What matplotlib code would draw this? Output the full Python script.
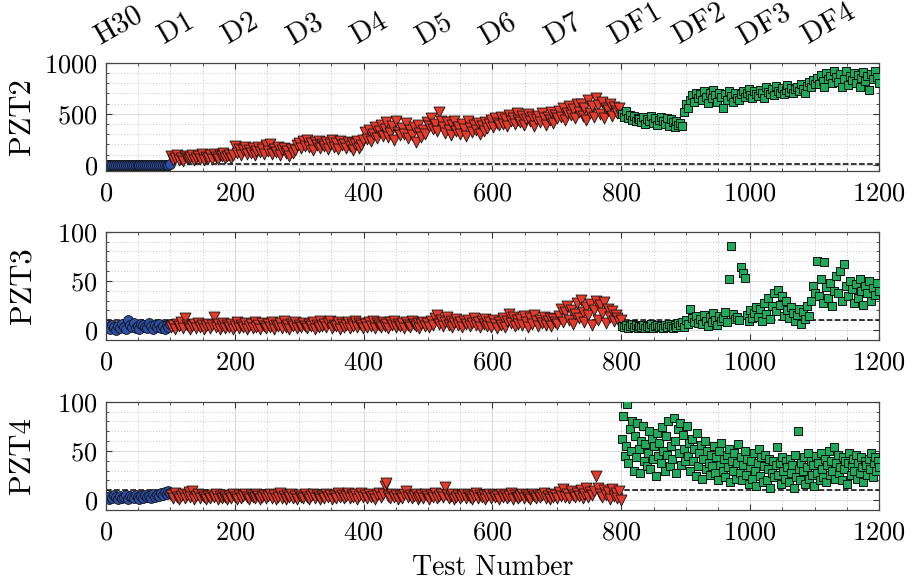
import numpy as np
import matplotlib
matplotlib.use('Agg')
import matplotlib.pyplot as plt
from matplotlib.ticker import MultipleLocator

plt.rcParams['font.family'] = ['cmr10', 'DejaVu Serif']
plt.rcParams['mathtext.fontset'] = 'cm'
plt.rcParams['axes.formatter.use_mathtext'] = True

# group names shown along the top and the test number where each group starts
group_labels = ['H30', 'D1', 'D2', 'D3', 'D4', 'D5', 'D6', 'D7', 'DF1', 'DF2', 'DF3', 'DF4']
group_starts = [0, 100, 200, 300, 400, 500, 600, 700, 800, 900, 1000, 1100]

# test ranges of the three condition sets (healthy, damage, damage + fault)
h30_range = (1, 100)
d_range = (101, 800)
df_range = (801, 1200)

# ---- PZT2 (roughly every third test) ----
pzt2_h30 = [1, 2, 0, 1, 3, 2, 1, 0, 2, 1, 3, 1, 2, 0, 1, 2, 3, 1, 0, 2, 1, 3, 2, 1, 0, 2, 1, 3, 2, 1, 2, 0, 3, 8]
pzt2_d = [85, 45, 70, 95, 52, 63, 40, 88, 72, 55,
          78, 98, 50, 66, 90, 58, 102, 47, 80, 70,
          92, 60, 108, 75, 55, 98, 82, 115, 66, 88,
          100, 72, 95, 185, 120, 160, 98, 145, 175, 110,
          150, 118, 170, 92, 135, 178, 125, 160, 105, 190,
          140, 200, 110, 155, 130, 172, 98, 148, 165, 120,
          135, 82, 160, 115, 145, 190, 210, 165, 230, 180,
          240, 175, 210, 150, 225, 195, 238, 168, 205, 185,
          228, 160, 200, 242, 178, 215, 155, 232, 190, 208,
          170, 225, 185, 210, 150, 200, 230, 165, 195, 240,
          320, 250, 345, 230, 300, 370, 265, 330, 395, 280,
          350, 420, 275, 310, 380, 240, 430, 325, 290, 360,
          300, 410, 260, 340, 295, 370, 228, 395, 315, 270,
          340, 300, 420, 380, 455, 350, 400, 330, 520, 425,
          370, 310, 415, 345, 290, 390, 430, 330, 375, 300,
          405, 350, 280, 425, 365, 320, 395, 340, 410, 300,
          385, 330, 420, 360, 400, 440, 375, 455, 410, 390,
          470, 405, 445, 380, 490, 425, 460, 400, 510, 440,
          415, 475, 390, 450, 500, 430, 465, 385, 445, 480,
          420, 505, 455, 395, 470, 440, 520, 410, 485, 460,
          530, 470, 555, 440, 510, 580, 490, 545, 460, 595,
          520, 600, 480, 555, 435, 640, 510, 575, 470, 655,
          590, 500, 620, 460, 560, 540, 600, 480, 570, 530,
          510, 560, 490]
pzt2_df = [500, 470, 530, 455, 490, 440, 475, 430, 460, 445,
           420, 470, 400, 450, 430, 480, 410, 455, 390, 440,
           470, 425, 400, 460, 380, 445, 415, 370, 430, 395,
           410, 385, 520, 600, 560, 640, 680, 620, 700, 655,
           690, 640, 720, 665, 610, 700, 650, 735, 680, 620,
           705, 660, 560, 690, 640, 725, 670, 615, 700, 655,
           640, 690, 720, 660, 700, 745, 680, 650, 720, 690,
           670, 730, 700, 650, 760, 715, 690, 745, 680, 770,
           720, 700, 755, 690, 735, 785, 710, 750, 700, 740,
           765, 720, 790, 745, 700, 775, 810, 760, 830, 790,
           850, 790, 880, 820, 760, 900, 840, 870, 800, 920,
           860, 810, 890, 760, 840, 920, 780, 870, 830, 900,
           800, 880, 760, 850, 910, 820, 870, 730, 890, 840,
           920, 860, 800]

# ---- PZT3 ----
pzt3_h30 = [2, 4, 1, 5, 3, 0, 4, 2, 6, 3, 1, 10, 5, 3, 7, 2, 4, 1, 6, 5, 3, 2, 7, 4, 1, 5, 3, 6, 2, 4, 1, 5, 3, 6]
pzt3_d = [3, 5, 1, 6, 4, 8, 2, 12, 5, 3,
          1, 4, 6, 2, 7, 3, 5, 1, 4, 6,
          2, 5, 13, 3, 6, 1, 4, 7, 2, 5,
          3, 6, 1, 4, 8, 2, 5, 3, 7, 1,
          4, 6, 2, 8, 3, 5, 1, 7, 4, 2,
          6, 3, 8, 1, 5, 4, 7, 2, 9, 3,
          5, 1, 6, 4, 8, 2, 5, 3, 7, 4,
          2, 6, 4, 8, 1, 5, 3, 9, 4, 6,
          3, 7, 9, 2, 5, 4, 8, 1, 6, 3,
          5, 8, 2, 6, 4, 9, 3, 7, 5, 2,
          6, 3, 8, 4, 9, 2, 7, 5, 3, 8,
          4, 6, 2, 8, 5, 9, 3, 6, 4, 7,
          2, 8, 5, 3, 9, 6, 4, 7, 2, 6,
          8, 4, 7, 3, 9, 5, 12, 15, 6, 10,
          4, 8, 13, 5, 9, 3, 7, 11, 5, 8,
          3, 9, 6, 10, 4, 7, 12, 5, 8, 3,
          9, 6, 11, 4, 8, 3, 10, 6, 2, 8,
          5, 12, 3, 9, 16, 7, 13, 4, 10, 6,
          11, 5, 14, 8, 3, 12, 6, 15, 9, 4,
          10, 7, 13, 5, 9, 12, 4, 11, 8, 6,
          14, 22, 8, 18, 25, 10, 20, 6, 16, 28,
          12, 31, 18, 8, 24, 15, 27, 5, 20, 30,
          10, 26, 17, 29, 7, 22, 13, 19, 9, 15,
          12, 8, 10]
pzt3_df = [4, 3, 5, 2, 4, 6, 3, 5, 2, 4,
           3, 5, 2, 4, 3, 6, 2, 4, 5, 3,
           4, 2, 5, 3, 6, 4, 2, 5, 3, 7,
           5, 8, 3, 10, 6, 22, 12, 8, 14, 7,
           11, 6, 15, 9, 4, 13, 8, 17, 10, 5,
           14, 9, 12, 18, 8, 52, 86, 16, 11, 13,
           10, 64, 58, 53, 15, 9, 20, 12, 17, 24,
           13, 22, 9, 28, 16, 33, 11, 25, 38, 19,
           41, 26, 35, 14, 30, 20, 12, 24, 17, 9,
           15, 21, 6, 18, 11, 25, 14, 30, 45, 38,
           70, 35, 52, 28, 69, 44, 33, 48, 25, 40,
           55, 38, 60, 30, 67, 45, 35, 50, 42, 28,
           47, 33, 52, 40, 26, 45, 38, 50, 30, 43,
           36, 48, 40]

# ---- PZT4 ----
pzt4_h30 = [3, 1, 4, 2, 5, 3, 1, 4, 2, 3, 5, 1, 4, 3, 2, 5, 3, 1, 4, 2, 5, 3, 4, 2, 6, 3, 5, 4, 7, 5, 8, 6, 9, 7]
pzt4_d = [5, 2, 7, 3, 1, 4, 6, 2, 5, 8,
          3, 9, 1, 4, 6, 2, 5, 3, 1, 4,
          2, 5, 3, 6, 1, 4, 2, 5, 3, 1,
          4, 2, 6, 3, 1, 5, 2, 4, 6, 3,
          1, 5, 3, 2, 6, 4, 1, 3, 5, 2,
          4, 6, 2, 5, 1, 3, 7, 2, 4, 1,
          5, 3, 6, 2, 4, 1, 5, 3, 2, 6,
          3, 1, 4, 6, 2, 5, 3, 1, 4, 2,
          6, 3, 5, 1, 4, 2, 7, 3, 5, 2,
          4, 7, 2, 5, 3, 6, 1, 4, 7, 3,
          5, 2, 6, 3, 4, 1, 5, 7, 3, 6,
          14, 17, 4, 2, 6, 3, 5, 1, 4, 2,
          6, 9, 3, 5, 2, 4, 6, 1, 3, 5,
          2, 6, 4, 1, 5, 3, 7, 2, 4, 6,
          3, 13, 5, 2, 4, 6, 1, 3, 5, 2,
          4, 6, 2, 5, 3, 1, 4, 7, 2, 5,
          3, 5, 1, 4, 6, 2, 5, 3, 4, 1,
          6, 3, 5, 2, 4, 7, 1, 5, 3, 2,
          4, 6, 2, 5, 3, 1, 6, 4, 2, 5,
          3, 5, 7, 2, 4, 1, 6, 3, 5, 2,
          8, 4, 11, 3, 6, 2, 9, 5, 3, 7,
          4, 10, 2, 6, 12, 3, 8, 5, 9, 25,
          12, 6, 3, 10, 5, 8, 1, 11, 4, 7,
          2, 9, 0]
# denser here: roughly every second test
pzt4_df = [62, 86, 45, 55, 98, 38, 72, 50, 80, 30,
           65, 44, 78, 52, 28, 60, 75, 40, 57, 35,
           48, 70, 32, 62, 42, 55, 25, 68, 45, 58,
           38, 74, 50, 30, 65, 46, 80, 35, 55, 42,
           84, 60, 28, 72, 48, 78, 36, 66, 52, 40,
           75, 45, 58, 30, 62, 40, 52, 25, 68, 35,
           48, 56, 22, 42, 60, 32, 50, 38, 26, 46,
           35, 55, 28, 44, 20, 50, 36, 58, 30, 42,
           24, 46, 34, 52, 18, 40, 30, 48, 22, 38,
           57, 28, 44, 20, 36, 50, 26, 42, 16, 34,
           40, 22, 48, 30, 14, 38, 52, 25, 44, 18,
           35, 46, 20, 32, 42, 12, 28, 40, 24, 36,
           54, 26, 38, 16, 44, 30, 22, 40, 34, 18,
           42, 28, 36, 12, 46, 24, 70, 32, 20, 38,
           30, 44, 16, 34, 48, 22, 40, 26, 36, 14,
           45, 28, 38, 20, 48, 32, 24, 42, 18, 36,
           50, 26, 40, 30, 54, 22, 38, 46, 28, 34,
           20, 44, 32, 40, 16, 38, 48, 26, 36, 42,
           30, 46, 22, 38, 28, 44, 34, 18, 40, 36,
           26, 42, 32, 48, 24, 38, 44, 30, 40, 34]

panels = [
    ('PZT2', pzt2_h30, pzt2_d, pzt2_df, (-60, 1000), 500, 100, 10),
    ('PZT3', pzt3_h30, pzt3_d, pzt3_df, (-10, 100), 50, 10, 10),
    ('PZT4', pzt4_h30, pzt4_d, pzt4_df, (-10, 100), 50, 10, 10),
]

blue = '#2c4fa8'
red = '#e63b2a'
green = '#1fa95a'

fig = plt.figure(figsize=(9.16, 5.82), dpi=100)
left, width = 0.1157, 0.8439
bottoms = [0.7062, 0.4158, 0.1237]
height = 0.186


def xs(rng, vals):
    return np.linspace(rng[0], rng[1], len(vals))


for k, (name, h, d, df, ylim, ymaj, ymin, thr) in enumerate(panels):
    ax = fig.add_axes([left, bottoms[k], width, height])

    ax.plot([0, 1200], [thr, thr], '--', color='k', lw=1.1, zorder=1)

    ax.scatter(xs(h30_range, h), h, s=50, marker='o', color=blue,
               edgecolors='#111111', linewidths=0.6, zorder=2)
    ax.scatter(xs(d_range, d), d, s=62, marker='v', color=red,
               edgecolors='#111111', linewidths=0.6, zorder=3)
    ax.scatter(xs(df_range, df), df, s=40, marker='s', color=green,
               edgecolors='#111111', linewidths=0.7, zorder=4)

    ax.set_xlim(0, 1200)
    ax.set_ylim(*ylim)
    ax.xaxis.set_major_locator(MultipleLocator(200))
    ax.xaxis.set_minor_locator(MultipleLocator(50))
    ax.yaxis.set_major_locator(MultipleLocator(ymaj))
    ax.yaxis.set_minor_locator(MultipleLocator(ymin))
    ax.grid(True, which='major', color='#d9d9d9', lw=0.7, ls='-', zorder=0)
    ax.grid(True, which='minor', color='#c8c8c8', lw=0.7, ls=(0, (1, 2)), zorder=0)
    ax.set_axisbelow(True)
    ax.tick_params(which='both', direction='in', top=True, right=True,
                   color='#333333', labelsize=19)
    ax.tick_params(which='major', length=4, width=0.8)
    ax.tick_params(which='minor', length=2.5, width=0.6)
    ax.tick_params(axis='x', pad=8)
    ax.tick_params(axis='y', pad=6)
    for sp in ax.spines.values():
        sp.set_color('#444444')
        sp.set_linewidth(0.9)
    ax.set_ylabel(name, fontsize=22)
    ax.yaxis.set_label_coords(-0.09, 0.5)

    if k == 0:
        trans = ax.get_xaxis_transform()
        for lab, st in zip(group_labels, group_starts):
            ax.text(st - 10, 1.17, lab, transform=trans, rotation=30,
                    rotation_mode='anchor', ha='left', va='baseline', fontsize=21)
    if k == 2:
        ax.set_xlabel('Test Number', fontsize=20, labelpad=7)

fig.savefig('out.png', dpi=100)
